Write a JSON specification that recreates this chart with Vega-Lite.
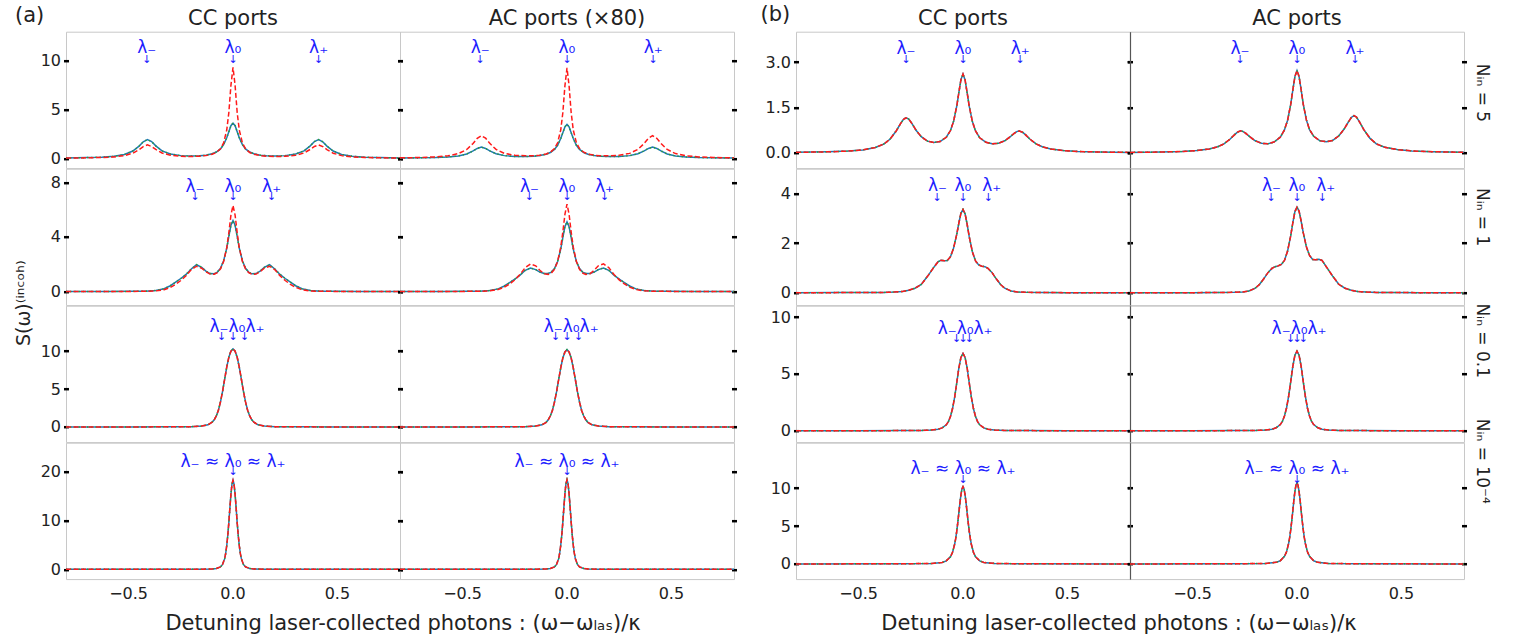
{
"$schema":"https://vega.github.io/schema/vega-lite/v6.json",
"background":"white",
"padding":{"left":0,"top":3.7,"right":30,"bottom":0},
"datasets":{
"c":[
{"p":"a1L","x":-0.8,"b":0.044,"r":0.032},{"p":"a1L","x":-0.7,"b":0.075,"r":0.054},{"p":"a1L","x":-0.63,"b":0.12,"r":0.088},{"p":"a1L","x":-0.57,"b":0.21,"r":0.15},{"p":"a1L","x":-0.52,"b":0.4,"r":0.28},{"p":"a1L","x":-0.48,"b":0.75,"r":0.53},{"p":"a1L","x":-0.45,"b":1.26,"r":0.9},{"p":"a1L","x":-0.43,"b":1.7,"r":1.21},{"p":"a1L","x":-0.41,"b":1.93,"r":1.38},{"p":"a1L","x":-0.39,"b":1.72,"r":1.22},{"p":"a1L","x":-0.37,"b":1.28,"r":0.92},{"p":"a1L","x":-0.34,"b":0.77,"r":0.55},{"p":"a1L","x":-0.3,"b":0.44,"r":0.32},{"p":"a1L","x":-0.25,"b":0.28,"r":0.21},{"p":"a1L","x":-0.2,"b":0.24,"r":0.19},{"p":"a1L","x":-0.16,"b":0.27,"r":0.22},{"p":"a1L","x":-0.13,"b":0.33,"r":0.28},{"p":"a1L","x":-0.1,"b":0.47,"r":0.42},{"p":"a1L","x":-0.08,"b":0.65,"r":0.6},{"p":"a1L","x":-0.06,"b":0.97,"r":0.98},{"p":"a1L","x":-0.045,"b":1.41,"r":1.59},{"p":"a1L","x":-0.03,"b":2.12,"r":2.91},{"p":"a1L","x":-0.02,"b":2.74,"r":4.7},{"p":"a1L","x":-0.01,"b":3.35,"r":7.49},{"p":"a1L","x":0,"b":3.62,"r":9.33},
{"p":"a1L","x":0.01,"b":3.35,"r":7.49},{"p":"a1L","x":0.02,"b":2.74,"r":4.7},{"p":"a1L","x":0.03,"b":2.12,"r":2.91},{"p":"a1L","x":0.045,"b":1.41,"r":1.59},{"p":"a1L","x":0.06,"b":0.97,"r":0.98},{"p":"a1L","x":0.08,"b":0.65,"r":0.6},{"p":"a1L","x":0.1,"b":0.47,"r":0.42},{"p":"a1L","x":0.13,"b":0.33,"r":0.28},{"p":"a1L","x":0.16,"b":0.27,"r":0.22},{"p":"a1L","x":0.2,"b":0.24,"r":0.19},{"p":"a1L","x":0.25,"b":0.28,"r":0.21},{"p":"a1L","x":0.3,"b":0.44,"r":0.32},{"p":"a1L","x":0.34,"b":0.77,"r":0.55},{"p":"a1L","x":0.37,"b":1.28,"r":0.92},{"p":"a1L","x":0.39,"b":1.72,"r":1.22},{"p":"a1L","x":0.41,"b":1.93,"r":1.38},{"p":"a1L","x":0.43,"b":1.7,"r":1.21},{"p":"a1L","x":0.45,"b":1.26,"r":0.9},{"p":"a1L","x":0.48,"b":0.75,"r":0.53},{"p":"a1L","x":0.52,"b":0.4,"r":0.28},{"p":"a1L","x":0.57,"b":0.21,"r":0.15},{"p":"a1L","x":0.63,"b":0.12,"r":0.088},{"p":"a1L","x":0.7,"b":0.075,"r":0.054},{"p":"a1L","x":0.8,"b":0.044,"r":0.032},
{"p":"a1R","x":-0.8,"b":0.03,"r":0.05},{"p":"a1R","x":-0.7,"b":0.05,"r":0.09},{"p":"a1R","x":-0.63,"b":0.08,"r":0.15},{"p":"a1R","x":-0.57,"b":0.14,"r":0.26},{"p":"a1R","x":-0.52,"b":0.25,"r":0.49},{"p":"a1R","x":-0.48,"b":0.45,"r":0.91},{"p":"a1R","x":-0.45,"b":0.76,"r":1.53},{"p":"a1R","x":-0.43,"b":1.02,"r":2.06},{"p":"a1R","x":-0.41,"b":1.15,"r":2.33},{"p":"a1R","x":-0.39,"b":1.02,"r":2.07},{"p":"a1R","x":-0.37,"b":0.77,"r":1.54},{"p":"a1R","x":-0.34,"b":0.47,"r":0.92},{"p":"a1R","x":-0.3,"b":0.28,"r":0.51},{"p":"a1R","x":-0.25,"b":0.19,"r":0.32},{"p":"a1R","x":-0.2,"b":0.18,"r":0.26},{"p":"a1R","x":-0.16,"b":0.22,"r":0.27},{"p":"a1R","x":-0.13,"b":0.29,"r":0.32},{"p":"a1R","x":-0.1,"b":0.42,"r":0.45},{"p":"a1R","x":-0.08,"b":0.6,"r":0.63},{"p":"a1R","x":-0.06,"b":0.92,"r":1.01},{"p":"a1R","x":-0.045,"b":1.34,"r":1.6},{"p":"a1R","x":-0.03,"b":2.03,"r":2.91},{"p":"a1R","x":-0.02,"b":2.64,"r":4.68},{"p":"a1R","x":-0.01,"b":3.23,"r":7.44},{"p":"a1R","x":0,"b":3.49,"r":9.28},
{"p":"a1R","x":0.01,"b":3.23,"r":7.44},{"p":"a1R","x":0.02,"b":2.64,"r":4.68},{"p":"a1R","x":0.03,"b":2.03,"r":2.91},{"p":"a1R","x":0.045,"b":1.34,"r":1.6},{"p":"a1R","x":0.06,"b":0.92,"r":1.01},{"p":"a1R","x":0.08,"b":0.6,"r":0.63},{"p":"a1R","x":0.1,"b":0.42,"r":0.45},{"p":"a1R","x":0.13,"b":0.29,"r":0.32},{"p":"a1R","x":0.16,"b":0.22,"r":0.27},{"p":"a1R","x":0.2,"b":0.18,"r":0.26},{"p":"a1R","x":0.25,"b":0.19,"r":0.32},{"p":"a1R","x":0.3,"b":0.28,"r":0.51},{"p":"a1R","x":0.34,"b":0.47,"r":0.92},{"p":"a1R","x":0.37,"b":0.77,"r":1.54},{"p":"a1R","x":0.39,"b":1.02,"r":2.07},{"p":"a1R","x":0.41,"b":1.15,"r":2.33},{"p":"a1R","x":0.43,"b":1.02,"r":2.06},{"p":"a1R","x":0.45,"b":0.76,"r":1.53},{"p":"a1R","x":0.48,"b":0.45,"r":0.91},{"p":"a1R","x":0.52,"b":0.25,"r":0.49},{"p":"a1R","x":0.57,"b":0.14,"r":0.26},{"p":"a1R","x":0.63,"b":0.08,"r":0.15},{"p":"a1R","x":0.7,"b":0.05,"r":0.09},{"p":"a1R","x":0.8,"b":0.03,"r":0.05},
{"p":"a2L","x":-0.8,"b":0.001,"r":0.001},{"p":"a2L","x":-0.6,"b":0.003,"r":0.002},{"p":"a2L","x":-0.5,"b":0.006,"r":0.004},{"p":"a2L","x":-0.42,"b":0.02,"r":0.01},{"p":"a2L","x":-0.37,"b":0.07,"r":0.04},{"p":"a2L","x":-0.33,"b":0.2,"r":0.13},{"p":"a2L","x":-0.3,"b":0.42,"r":0.3},{"p":"a2L","x":-0.275,"b":0.68,"r":0.52},{"p":"a2L","x":-0.25,"b":0.95,"r":0.8},{"p":"a2L","x":-0.225,"b":1.25,"r":1.15},{"p":"a2L","x":-0.2,"b":1.65,"r":1.6},{"p":"a2L","x":-0.175,"b":1.96,"r":1.85},{"p":"a2L","x":-0.15,"b":1.77,"r":1.7},{"p":"a2L","x":-0.13,"b":1.49,"r":1.45},{"p":"a2L","x":-0.11,"b":1.31,"r":1.27},{"p":"a2L","x":-0.09,"b":1.29,"r":1.26},{"p":"a2L","x":-0.075,"b":1.42,"r":1.38},{"p":"a2L","x":-0.06,"b":1.7,"r":1.65},{"p":"a2L","x":-0.045,"b":2.25,"r":2.2},{"p":"a2L","x":-0.03,"b":3.18,"r":3.2},{"p":"a2L","x":-0.02,"b":4.03,"r":4.3},{"p":"a2L","x":-0.01,"b":4.85,"r":5.6},{"p":"a2L","x":0,"b":5.2,"r":6.3},
{"p":"a2L","x":0.01,"b":4.85,"r":5.6},{"p":"a2L","x":0.02,"b":4.03,"r":4.3},{"p":"a2L","x":0.03,"b":3.18,"r":3.2},{"p":"a2L","x":0.045,"b":2.25,"r":2.2},{"p":"a2L","x":0.06,"b":1.7,"r":1.65},{"p":"a2L","x":0.075,"b":1.42,"r":1.38},{"p":"a2L","x":0.09,"b":1.29,"r":1.26},{"p":"a2L","x":0.11,"b":1.31,"r":1.27},{"p":"a2L","x":0.13,"b":1.49,"r":1.45},{"p":"a2L","x":0.15,"b":1.77,"r":1.7},{"p":"a2L","x":0.175,"b":1.96,"r":1.85},{"p":"a2L","x":0.2,"b":1.65,"r":1.6},{"p":"a2L","x":0.225,"b":1.25,"r":1.15},{"p":"a2L","x":0.25,"b":0.95,"r":0.8},{"p":"a2L","x":0.275,"b":0.68,"r":0.52},{"p":"a2L","x":0.3,"b":0.42,"r":0.3},{"p":"a2L","x":0.33,"b":0.2,"r":0.13},{"p":"a2L","x":0.37,"b":0.07,"r":0.04},{"p":"a2L","x":0.42,"b":0.02,"r":0.01},{"p":"a2L","x":0.5,"b":0.006,"r":0.004},{"p":"a2L","x":0.6,"b":0.003,"r":0.002},{"p":"a2L","x":0.8,"b":0.001,"r":0.001},
{"p":"a2R","x":-0.8,"b":0.001,"r":0.001},{"p":"a2R","x":-0.6,"b":0.003,"r":0.002},{"p":"a2R","x":-0.5,"b":0.006,"r":0.004},{"p":"a2R","x":-0.42,"b":0.02,"r":0.012},{"p":"a2R","x":-0.37,"b":0.065,"r":0.045},{"p":"a2R","x":-0.33,"b":0.19,"r":0.14},{"p":"a2R","x":-0.3,"b":0.4,"r":0.32},{"p":"a2R","x":-0.275,"b":0.64,"r":0.55},{"p":"a2R","x":-0.25,"b":0.9,"r":0.85},{"p":"a2R","x":-0.225,"b":1.2,"r":1.25},{"p":"a2R","x":-0.2,"b":1.55,"r":1.75},{"p":"a2R","x":-0.175,"b":1.72,"r":2.02},{"p":"a2R","x":-0.15,"b":1.6,"r":1.88},{"p":"a2R","x":-0.13,"b":1.42,"r":1.55},{"p":"a2R","x":-0.11,"b":1.32,"r":1.3},{"p":"a2R","x":-0.09,"b":1.32,"r":1.25},{"p":"a2R","x":-0.075,"b":1.42,"r":1.35},{"p":"a2R","x":-0.06,"b":1.68,"r":1.62},{"p":"a2R","x":-0.045,"b":2.2,"r":2.2},{"p":"a2R","x":-0.03,"b":3.1,"r":3.25},{"p":"a2R","x":-0.02,"b":3.95,"r":4.35},{"p":"a2R","x":-0.01,"b":4.75,"r":5.65},{"p":"a2R","x":0,"b":5.1,"r":6.4},
{"p":"a2R","x":0.01,"b":4.75,"r":5.65},{"p":"a2R","x":0.02,"b":3.95,"r":4.35},{"p":"a2R","x":0.03,"b":3.1,"r":3.25},{"p":"a2R","x":0.045,"b":2.2,"r":2.2},{"p":"a2R","x":0.06,"b":1.68,"r":1.62},{"p":"a2R","x":0.075,"b":1.42,"r":1.35},{"p":"a2R","x":0.09,"b":1.32,"r":1.25},{"p":"a2R","x":0.11,"b":1.32,"r":1.3},{"p":"a2R","x":0.13,"b":1.42,"r":1.55},{"p":"a2R","x":0.15,"b":1.6,"r":1.88},{"p":"a2R","x":0.175,"b":1.72,"r":2.02},{"p":"a2R","x":0.2,"b":1.55,"r":1.75},{"p":"a2R","x":0.225,"b":1.2,"r":1.25},{"p":"a2R","x":0.25,"b":0.9,"r":0.85},{"p":"a2R","x":0.275,"b":0.64,"r":0.55},{"p":"a2R","x":0.3,"b":0.4,"r":0.32},{"p":"a2R","x":0.33,"b":0.19,"r":0.14},{"p":"a2R","x":0.37,"b":0.065,"r":0.045},{"p":"a2R","x":0.42,"b":0.02,"r":0.012},{"p":"a2R","x":0.5,"b":0.006,"r":0.004},{"p":"a2R","x":0.6,"b":0.003,"r":0.002},{"p":"a2R","x":0.8,"b":0.001,"r":0.001},
{"p":"a3L","x":-0.8,"b":0.001,"r":0.001},{"p":"a3L","x":-0.5,"b":0.004,"r":0.004},{"p":"a3L","x":-0.3,"b":0.012,"r":0.012},{"p":"a3L","x":-0.2,"b":0.04,"r":0.04},{"p":"a3L","x":-0.15,"b":0.11,"r":0.11},{"p":"a3L","x":-0.12,"b":0.28,"r":0.28},{"p":"a3L","x":-0.1,"b":0.62,"r":0.62},{"p":"a3L","x":-0.09,"b":0.95,"r":0.95},{"p":"a3L","x":-0.08,"b":1.45,"r":1.45},{"p":"a3L","x":-0.07,"b":2.2,"r":2.2},{"p":"a3L","x":-0.06,"b":3.3,"r":3.3},{"p":"a3L","x":-0.05,"b":4.7,"r":4.7},{"p":"a3L","x":-0.04,"b":6.3,"r":6.3},{"p":"a3L","x":-0.03,"b":7.9,"r":7.9},{"p":"a3L","x":-0.02,"b":9.2,"r":9.2},{"p":"a3L","x":-0.01,"b":10.0,"r":10.0},{"p":"a3L","x":0,"b":10.3,"r":10.3},
{"p":"a3L","x":0.01,"b":10.0,"r":10.0},{"p":"a3L","x":0.02,"b":9.2,"r":9.2},{"p":"a3L","x":0.03,"b":7.9,"r":7.9},{"p":"a3L","x":0.04,"b":6.3,"r":6.3},{"p":"a3L","x":0.05,"b":4.7,"r":4.7},{"p":"a3L","x":0.06,"b":3.3,"r":3.3},{"p":"a3L","x":0.07,"b":2.2,"r":2.2},{"p":"a3L","x":0.08,"b":1.45,"r":1.45},{"p":"a3L","x":0.09,"b":0.95,"r":0.95},{"p":"a3L","x":0.1,"b":0.62,"r":0.62},{"p":"a3L","x":0.12,"b":0.28,"r":0.28},{"p":"a3L","x":0.15,"b":0.11,"r":0.11},{"p":"a3L","x":0.2,"b":0.04,"r":0.04},{"p":"a3L","x":0.3,"b":0.012,"r":0.012},{"p":"a3L","x":0.5,"b":0.004,"r":0.004},{"p":"a3L","x":0.8,"b":0.001,"r":0.001},
{"p":"a3R","x":-0.8,"b":0.001,"r":0.001},{"p":"a3R","x":-0.5,"b":0.004,"r":0.004},{"p":"a3R","x":-0.3,"b":0.012,"r":0.012},{"p":"a3R","x":-0.2,"b":0.04,"r":0.04},{"p":"a3R","x":-0.15,"b":0.11,"r":0.11},{"p":"a3R","x":-0.12,"b":0.28,"r":0.28},{"p":"a3R","x":-0.1,"b":0.61,"r":0.61},{"p":"a3R","x":-0.09,"b":0.94,"r":0.94},{"p":"a3R","x":-0.08,"b":1.44,"r":1.44},{"p":"a3R","x":-0.07,"b":2.18,"r":2.18},{"p":"a3R","x":-0.06,"b":3.27,"r":3.27},{"p":"a3R","x":-0.05,"b":4.65,"r":4.65},{"p":"a3R","x":-0.04,"b":6.25,"r":6.25},{"p":"a3R","x":-0.03,"b":7.8,"r":7.8},{"p":"a3R","x":-0.02,"b":9.1,"r":9.1},{"p":"a3R","x":-0.01,"b":9.9,"r":9.9},{"p":"a3R","x":0,"b":10.2,"r":10.2},
{"p":"a3R","x":0.01,"b":9.9,"r":9.9},{"p":"a3R","x":0.02,"b":9.1,"r":9.1},{"p":"a3R","x":0.03,"b":7.8,"r":7.8},{"p":"a3R","x":0.04,"b":6.25,"r":6.25},{"p":"a3R","x":0.05,"b":4.65,"r":4.65},{"p":"a3R","x":0.06,"b":3.27,"r":3.27},{"p":"a3R","x":0.07,"b":2.18,"r":2.18},{"p":"a3R","x":0.08,"b":1.44,"r":1.44},{"p":"a3R","x":0.09,"b":0.94,"r":0.94},{"p":"a3R","x":0.1,"b":0.61,"r":0.61},{"p":"a3R","x":0.12,"b":0.28,"r":0.28},{"p":"a3R","x":0.15,"b":0.11,"r":0.11},{"p":"a3R","x":0.2,"b":0.04,"r":0.04},{"p":"a3R","x":0.3,"b":0.012,"r":0.012},{"p":"a3R","x":0.5,"b":0.004,"r":0.004},{"p":"a3R","x":0.8,"b":0.001,"r":0.001},
{"p":"a4L","x":-0.8,"b":0.001,"r":0.001},{"p":"a4L","x":-0.3,"b":0.008,"r":0.008},{"p":"a4L","x":-0.15,"b":0.03,"r":0.03},{"p":"a4L","x":-0.1,"b":0.09,"r":0.09},{"p":"a4L","x":-0.08,"b":0.18,"r":0.18},{"p":"a4L","x":-0.06,"b":0.5,"r":0.5},{"p":"a4L","x":-0.05,"b":1.0,"r":1.0},{"p":"a4L","x":-0.04,"b":2.2,"r":2.2},{"p":"a4L","x":-0.035,"b":3.3,"r":3.3},{"p":"a4L","x":-0.03,"b":4.9,"r":4.9},{"p":"a4L","x":-0.025,"b":7.0,"r":7.0},{"p":"a4L","x":-0.02,"b":9.6,"r":9.6},{"p":"a4L","x":-0.015,"b":12.6,"r":12.6},{"p":"a4L","x":-0.01,"b":15.4,"r":15.4},{"p":"a4L","x":-0.005,"b":17.5,"r":17.5},{"p":"a4L","x":0,"b":18.3,"r":18.3},
{"p":"a4L","x":0.005,"b":17.5,"r":17.5},{"p":"a4L","x":0.01,"b":15.4,"r":15.4},{"p":"a4L","x":0.015,"b":12.6,"r":12.6},{"p":"a4L","x":0.02,"b":9.6,"r":9.6},{"p":"a4L","x":0.025,"b":7.0,"r":7.0},{"p":"a4L","x":0.03,"b":4.9,"r":4.9},{"p":"a4L","x":0.035,"b":3.3,"r":3.3},{"p":"a4L","x":0.04,"b":2.2,"r":2.2},{"p":"a4L","x":0.05,"b":1.0,"r":1.0},{"p":"a4L","x":0.06,"b":0.5,"r":0.5},{"p":"a4L","x":0.08,"b":0.18,"r":0.18},{"p":"a4L","x":0.1,"b":0.09,"r":0.09},{"p":"a4L","x":0.15,"b":0.03,"r":0.03},{"p":"a4L","x":0.3,"b":0.008,"r":0.008},{"p":"a4L","x":0.8,"b":0.001,"r":0.001},
{"p":"a4R","x":-0.8,"b":0.001,"r":0.001},{"p":"a4R","x":-0.3,"b":0.008,"r":0.008},{"p":"a4R","x":-0.15,"b":0.03,"r":0.03},{"p":"a4R","x":-0.1,"b":0.09,"r":0.09},{"p":"a4R","x":-0.08,"b":0.18,"r":0.18},{"p":"a4R","x":-0.06,"b":0.5,"r":0.5},{"p":"a4R","x":-0.05,"b":1.0,"r":1.0},{"p":"a4R","x":-0.04,"b":2.2,"r":2.2},{"p":"a4R","x":-0.035,"b":3.35,"r":3.35},{"p":"a4R","x":-0.03,"b":4.95,"r":4.95},{"p":"a4R","x":-0.025,"b":7.05,"r":7.05},{"p":"a4R","x":-0.02,"b":9.7,"r":9.7},{"p":"a4R","x":-0.015,"b":12.7,"r":12.7},{"p":"a4R","x":-0.01,"b":15.5,"r":15.5},{"p":"a4R","x":-0.005,"b":17.6,"r":17.6},{"p":"a4R","x":0,"b":18.4,"r":18.4},
{"p":"a4R","x":0.005,"b":17.6,"r":17.6},{"p":"a4R","x":0.01,"b":15.5,"r":15.5},{"p":"a4R","x":0.015,"b":12.7,"r":12.7},{"p":"a4R","x":0.02,"b":9.7,"r":9.7},{"p":"a4R","x":0.025,"b":7.05,"r":7.05},{"p":"a4R","x":0.03,"b":4.95,"r":4.95},{"p":"a4R","x":0.035,"b":3.35,"r":3.35},{"p":"a4R","x":0.04,"b":2.2,"r":2.2},{"p":"a4R","x":0.05,"b":1.0,"r":1.0},{"p":"a4R","x":0.06,"b":0.5,"r":0.5},{"p":"a4R","x":0.08,"b":0.18,"r":0.18},{"p":"a4R","x":0.1,"b":0.09,"r":0.09},{"p":"a4R","x":0.15,"b":0.03,"r":0.03},{"p":"a4R","x":0.3,"b":0.008,"r":0.008},{"p":"a4R","x":0.8,"b":0.001,"r":0.001},
{"p":"b1L","x":-0.8,"b":0.02},{"p":"b1L","x":-0.65,"b":0.036},{"p":"b1L","x":-0.55,"b":0.061},{"p":"b1L","x":-0.48,"b":0.1},{"p":"b1L","x":-0.42,"b":0.18},{"p":"b1L","x":-0.38,"b":0.29},{"p":"b1L","x":-0.35,"b":0.45},{"p":"b1L","x":-0.32,"b":0.725},{"p":"b1L","x":-0.3,"b":0.96},{"p":"b1L","x":-0.285,"b":1.11},{"p":"b1L","x":-0.273,"b":1.16},{"p":"b1L","x":-0.26,"b":1.12},{"p":"b1L","x":-0.245,"b":0.975},{"p":"b1L","x":-0.225,"b":0.75},{"p":"b1L","x":-0.2,"b":0.535},{"p":"b1L","x":-0.17,"b":0.39},{"p":"b1L","x":-0.14,"b":0.345},{"p":"b1L","x":-0.11,"b":0.374},{"p":"b1L","x":-0.08,"b":0.518},{"p":"b1L","x":-0.06,"b":0.739},{"p":"b1L","x":-0.045,"b":1.043},{"p":"b1L","x":-0.03,"b":1.54},{"p":"b1L","x":-0.02,"b":1.985},{"p":"b1L","x":-0.01,"b":2.414},{"p":"b1L","x":0,"b":2.602},{"p":"b1L","x":0.01,"b":2.41},{"p":"b1L","x":0.02,"b":1.98},{"p":"b1L","x":0.03,"b":1.534},{"p":"b1L","x":0.045,"b":1.034},{"p":"b1L","x":0.06,"b":0.726},{"p":"b1L","x":0.08,"b":0.5},{"p":"b1L","x":0.11,"b":0.352},{"p":"b1L","x":0.14,"b":0.3},{"p":"b1L","x":0.17,"b":0.32},{"p":"b1L","x":0.2,"b":0.4},{"p":"b1L","x":0.225,"b":0.527},{"p":"b1L","x":0.245,"b":0.647},{"p":"b1L","x":0.26,"b":0.712},{"p":"b1L","x":0.27,"b":0.725},{"p":"b1L","x":0.285,"b":0.685},{"p":"b1L","x":0.3,"b":0.597},{"p":"b1L","x":0.32,"b":0.46},{"p":"b1L","x":0.35,"b":0.3},{"p":"b1L","x":0.38,"b":0.203},{"p":"b1L","x":0.42,"b":0.131},{"p":"b1L","x":0.48,"b":0.079},{"p":"b1L","x":0.55,"b":0.048},{"p":"b1L","x":0.65,"b":0.03},{"p":"b1L","x":0.8,"b":0.018},
{"p":"b1R","x":-0.8,"b":0.018},{"p":"b1R","x":-0.65,"b":0.03},{"p":"b1R","x":-0.55,"b":0.048},{"p":"b1R","x":-0.48,"b":0.079},{"p":"b1R","x":-0.42,"b":0.131},{"p":"b1R","x":-0.38,"b":0.203},{"p":"b1R","x":-0.35,"b":0.3},{"p":"b1R","x":-0.32,"b":0.46},{"p":"b1R","x":-0.3,"b":0.597},{"p":"b1R","x":-0.285,"b":0.685},{"p":"b1R","x":-0.27,"b":0.73},{"p":"b1R","x":-0.26,"b":0.712},{"p":"b1R","x":-0.245,"b":0.647},{"p":"b1R","x":-0.225,"b":0.527},{"p":"b1R","x":-0.2,"b":0.4},{"p":"b1R","x":-0.17,"b":0.32},{"p":"b1R","x":-0.14,"b":0.3},{"p":"b1R","x":-0.11,"b":0.36},{"p":"b1R","x":-0.08,"b":0.52},{"p":"b1R","x":-0.06,"b":0.76},{"p":"b1R","x":-0.045,"b":1.08},{"p":"b1R","x":-0.03,"b":1.6},{"p":"b1R","x":-0.02,"b":2.07},{"p":"b1R","x":-0.01,"b":2.52},{"p":"b1R","x":0,"b":2.72},{"p":"b1R","x":0.01,"b":2.52},{"p":"b1R","x":0.02,"b":2.08},{"p":"b1R","x":0.03,"b":1.61},{"p":"b1R","x":0.045,"b":1.09},{"p":"b1R","x":0.06,"b":0.77},{"p":"b1R","x":0.08,"b":0.55},{"p":"b1R","x":0.11,"b":0.4},{"p":"b1R","x":0.14,"b":0.37},{"p":"b1R","x":0.17,"b":0.41},{"p":"b1R","x":0.2,"b":0.56},{"p":"b1R","x":0.225,"b":0.78},{"p":"b1R","x":0.245,"b":1.01},{"p":"b1R","x":0.26,"b":1.17},{"p":"b1R","x":0.273,"b":1.23},{"p":"b1R","x":0.285,"b":1.18},{"p":"b1R","x":0.3,"b":1.02},{"p":"b1R","x":0.32,"b":0.77},{"p":"b1R","x":0.35,"b":0.48},{"p":"b1R","x":0.38,"b":0.3},{"p":"b1R","x":0.42,"b":0.19},{"p":"b1R","x":0.48,"b":0.11},{"p":"b1R","x":0.55,"b":0.067},{"p":"b1R","x":0.65,"b":0.04},{"p":"b1R","x":0.8,"b":0.022},
{"p":"b2L","x":-0.8,"b":0.001},{"p":"b2L","x":-0.6,"b":0.003},{"p":"b2L","x":-0.45,"b":0.006},{"p":"b2L","x":-0.38,"b":0.012},{"p":"b2L","x":-0.33,"b":0.025},{"p":"b2L","x":-0.29,"b":0.05},{"p":"b2L","x":-0.26,"b":0.1},{"p":"b2L","x":-0.23,"b":0.18},{"p":"b2L","x":-0.2,"b":0.33},{"p":"b2L","x":-0.17,"b":0.66},{"p":"b2L","x":-0.14,"b":1.02},{"p":"b2L","x":-0.12,"b":1.24},{"p":"b2L","x":-0.105,"b":1.31},{"p":"b2L","x":-0.09,"b":1.29},{"p":"b2L","x":-0.075,"b":1.3},{"p":"b2L","x":-0.06,"b":1.45},{"p":"b2L","x":-0.045,"b":1.8},{"p":"b2L","x":-0.03,"b":2.35},{"p":"b2L","x":-0.02,"b":2.8},{"p":"b2L","x":-0.01,"b":3.2},{"p":"b2L","x":0,"b":3.36},{"p":"b2L","x":0.01,"b":3.18},{"p":"b2L","x":0.02,"b":2.75},{"p":"b2L","x":0.03,"b":2.25},{"p":"b2L","x":0.045,"b":1.65},{"p":"b2L","x":0.06,"b":1.28},{"p":"b2L","x":0.075,"b":1.12},{"p":"b2L","x":0.09,"b":1.07},{"p":"b2L","x":0.105,"b":1.05},{"p":"b2L","x":0.12,"b":0.98},{"p":"b2L","x":0.14,"b":0.8},{"p":"b2L","x":0.16,"b":0.55},{"p":"b2L","x":0.18,"b":0.33},{"p":"b2L","x":0.2,"b":0.18},{"p":"b2L","x":0.23,"b":0.07},{"p":"b2L","x":0.26,"b":0.03},{"p":"b2L","x":0.3,"b":0.015},{"p":"b2L","x":0.38,"b":0.006},{"p":"b2L","x":0.5,"b":0.002},{"p":"b2L","x":0.8,"b":0.001},
{"p":"b2R","x":-0.8,"b":0.001},{"p":"b2R","x":-0.5,"b":0.002},{"p":"b2R","x":-0.38,"b":0.006},{"p":"b2R","x":-0.3,"b":0.015},{"p":"b2R","x":-0.26,"b":0.03},{"p":"b2R","x":-0.23,"b":0.07},{"p":"b2R","x":-0.2,"b":0.18},{"p":"b2R","x":-0.18,"b":0.33},{"p":"b2R","x":-0.16,"b":0.55},{"p":"b2R","x":-0.14,"b":0.8},{"p":"b2R","x":-0.12,"b":0.98},{"p":"b2R","x":-0.105,"b":1.05},{"p":"b2R","x":-0.09,"b":1.08},{"p":"b2R","x":-0.075,"b":1.14},{"p":"b2R","x":-0.06,"b":1.3},{"p":"b2R","x":-0.045,"b":1.68},{"p":"b2R","x":-0.03,"b":2.3},{"p":"b2R","x":-0.02,"b":2.82},{"p":"b2R","x":-0.01,"b":3.27},{"p":"b2R","x":0,"b":3.45},{"p":"b2R","x":0.01,"b":3.29},{"p":"b2R","x":0.02,"b":2.88},{"p":"b2R","x":0.03,"b":2.42},{"p":"b2R","x":0.045,"b":1.85},{"p":"b2R","x":0.06,"b":1.5},{"p":"b2R","x":0.075,"b":1.34},{"p":"b2R","x":0.09,"b":1.33},{"p":"b2R","x":0.105,"b":1.35},{"p":"b2R","x":0.12,"b":1.3},{"p":"b2R","x":0.14,"b":1.05},{"p":"b2R","x":0.17,"b":0.68},{"p":"b2R","x":0.2,"b":0.34},{"p":"b2R","x":0.23,"b":0.18},{"p":"b2R","x":0.26,"b":0.1},{"p":"b2R","x":0.29,"b":0.05},{"p":"b2R","x":0.33,"b":0.025},{"p":"b2R","x":0.38,"b":0.012},{"p":"b2R","x":0.45,"b":0.005},{"p":"b2R","x":0.6,"b":0.002},{"p":"b2R","x":0.8,"b":0.001},
{"p":"b3L","x":-0.8,"b":0.002},{"p":"b3L","x":-0.5,"b":0.004},{"p":"b3L","x":-0.3,"b":0.01},{"p":"b3L","x":-0.2,"b":0.025},{"p":"b3L","x":-0.15,"b":0.06},{"p":"b3L","x":-0.12,"b":0.13},{"p":"b3L","x":-0.1,"b":0.25},{"p":"b3L","x":-0.08,"b":0.52},{"p":"b3L","x":-0.07,"b":0.8},{"p":"b3L","x":-0.06,"b":1.25},{"p":"b3L","x":-0.05,"b":1.95},{"p":"b3L","x":-0.04,"b":2.95},{"p":"b3L","x":-0.03,"b":4.2},{"p":"b3L","x":-0.02,"b":5.5},{"p":"b3L","x":-0.01,"b":6.45},{"p":"b3L","x":0,"b":6.8},{"p":"b3L","x":0.01,"b":6.45},{"p":"b3L","x":0.02,"b":5.5},{"p":"b3L","x":0.03,"b":4.2},{"p":"b3L","x":0.04,"b":2.95},{"p":"b3L","x":0.05,"b":1.95},{"p":"b3L","x":0.06,"b":1.25},{"p":"b3L","x":0.07,"b":0.8},{"p":"b3L","x":0.08,"b":0.52},{"p":"b3L","x":0.1,"b":0.25},{"p":"b3L","x":0.12,"b":0.13},{"p":"b3L","x":0.15,"b":0.06},{"p":"b3L","x":0.2,"b":0.025},{"p":"b3L","x":0.3,"b":0.01},{"p":"b3L","x":0.5,"b":0.004},{"p":"b3L","x":0.8,"b":0.002},
{"p":"b3R","x":-0.8,"b":0.002},{"p":"b3R","x":-0.5,"b":0.004},{"p":"b3R","x":-0.3,"b":0.01},{"p":"b3R","x":-0.2,"b":0.025},{"p":"b3R","x":-0.15,"b":0.06},{"p":"b3R","x":-0.12,"b":0.13},{"p":"b3R","x":-0.1,"b":0.26},{"p":"b3R","x":-0.08,"b":0.54},{"p":"b3R","x":-0.07,"b":0.82},{"p":"b3R","x":-0.06,"b":1.29},{"p":"b3R","x":-0.05,"b":2.0},{"p":"b3R","x":-0.04,"b":3.04},{"p":"b3R","x":-0.03,"b":4.32},{"p":"b3R","x":-0.02,"b":5.66},{"p":"b3R","x":-0.01,"b":6.64},{"p":"b3R","x":0,"b":7.0},{"p":"b3R","x":0.01,"b":6.64},{"p":"b3R","x":0.02,"b":5.66},{"p":"b3R","x":0.03,"b":4.32},{"p":"b3R","x":0.04,"b":3.04},{"p":"b3R","x":0.05,"b":2.0},{"p":"b3R","x":0.06,"b":1.29},{"p":"b3R","x":0.07,"b":0.82},{"p":"b3R","x":0.08,"b":0.54},{"p":"b3R","x":0.1,"b":0.26},{"p":"b3R","x":0.12,"b":0.13},{"p":"b3R","x":0.15,"b":0.06},{"p":"b3R","x":0.2,"b":0.025},{"p":"b3R","x":0.3,"b":0.01},{"p":"b3R","x":0.5,"b":0.004},{"p":"b3R","x":0.8,"b":0.002},
{"p":"b4L","x":-0.8,"b":0.002},{"p":"b4L","x":-0.3,"b":0.015},{"p":"b4L","x":-0.15,"b":0.07},{"p":"b4L","x":-0.1,"b":0.2},{"p":"b4L","x":-0.08,"b":0.4},{"p":"b4L","x":-0.06,"b":0.95},{"p":"b4L","x":-0.05,"b":1.55},{"p":"b4L","x":-0.04,"b":2.6},{"p":"b4L","x":-0.035,"b":3.35},{"p":"b4L","x":-0.03,"b":4.3},{"p":"b4L","x":-0.025,"b":5.45},{"p":"b4L","x":-0.02,"b":6.7},{"p":"b4L","x":-0.015,"b":8.0},{"p":"b4L","x":-0.01,"b":9.1},{"p":"b4L","x":-0.005,"b":9.9},{"p":"b4L","x":0,"b":10.2},{"p":"b4L","x":0.005,"b":9.9},{"p":"b4L","x":0.01,"b":9.1},{"p":"b4L","x":0.015,"b":8.0},{"p":"b4L","x":0.02,"b":6.7},{"p":"b4L","x":0.025,"b":5.45},{"p":"b4L","x":0.03,"b":4.3},{"p":"b4L","x":0.035,"b":3.35},{"p":"b4L","x":0.04,"b":2.6},{"p":"b4L","x":0.05,"b":1.55},{"p":"b4L","x":0.06,"b":0.95},{"p":"b4L","x":0.08,"b":0.4},{"p":"b4L","x":0.1,"b":0.2},{"p":"b4L","x":0.15,"b":0.07},{"p":"b4L","x":0.3,"b":0.015},{"p":"b4L","x":0.8,"b":0.002},
{"p":"b4R","x":-0.8,"b":0.002},{"p":"b4R","x":-0.3,"b":0.016},{"p":"b4R","x":-0.15,"b":0.07},{"p":"b4R","x":-0.1,"b":0.21},{"p":"b4R","x":-0.08,"b":0.42},{"p":"b4R","x":-0.06,"b":1.0},{"p":"b4R","x":-0.05,"b":1.6},{"p":"b4R","x":-0.04,"b":2.7},{"p":"b4R","x":-0.035,"b":3.5},{"p":"b4R","x":-0.03,"b":4.5},{"p":"b4R","x":-0.025,"b":5.7},{"p":"b4R","x":-0.02,"b":7.0},{"p":"b4R","x":-0.015,"b":8.4},{"p":"b4R","x":-0.01,"b":9.55},{"p":"b4R","x":-0.005,"b":10.4},{"p":"b4R","x":0,"b":10.7},{"p":"b4R","x":0.005,"b":10.4},{"p":"b4R","x":0.01,"b":9.55},{"p":"b4R","x":0.015,"b":8.4},{"p":"b4R","x":0.02,"b":7.0},{"p":"b4R","x":0.025,"b":5.7},{"p":"b4R","x":0.03,"b":4.5},{"p":"b4R","x":0.035,"b":3.5},{"p":"b4R","x":0.04,"b":2.7},{"p":"b4R","x":0.05,"b":1.6},{"p":"b4R","x":0.06,"b":1.0},{"p":"b4R","x":0.08,"b":0.42},{"p":"b4R","x":0.1,"b":0.21},{"p":"b4R","x":0.15,"b":0.07},{"p":"b4R","x":0.3,"b":0.016},{"p":"b4R","x":0.8,"b":0.002}
],
"n":[
{"p":"a1L","k":"l","tx":-0.413,"ty":11.36,"t":"λ₋"},{"p":"a1L","k":"l","tx":0,"ty":11.36,"t":"λ₀"},{"p":"a1L","k":"l","tx":0.41,"ty":11.36,"t":"λ₊"},
{"p":"a1L","k":"a","tx":-0.413,"ty":10.06},{"p":"a1L","k":"a","tx":0,"ty":10.06},{"p":"a1L","k":"a","tx":0.41,"ty":10.06},
{"p":"a1R","k":"l","tx":-0.416,"ty":11.36,"t":"λ₋"},{"p":"a1R","k":"l","tx":0,"ty":11.36,"t":"λ₀"},{"p":"a1R","k":"l","tx":0.413,"ty":11.36,"t":"λ₊"},
{"p":"a1R","k":"a","tx":-0.416,"ty":10.06},{"p":"a1R","k":"a","tx":0,"ty":10.06},{"p":"a1R","k":"a","tx":0.413,"ty":10.06},
{"p":"a2L","k":"l","tx":-0.182,"ty":7.67,"t":"λ₋"},{"p":"a2L","k":"l","tx":0,"ty":7.67,"t":"λ₀"},{"p":"a2L","k":"l","tx":0.185,"ty":7.67,"t":"λ₊"},
{"p":"a2L","k":"a","tx":-0.182,"ty":6.93},{"p":"a2L","k":"a","tx":0,"ty":6.93},{"p":"a2L","k":"a","tx":0.185,"ty":6.93},
{"p":"a2R","k":"l","tx":-0.18,"ty":7.67,"t":"λ₋"},{"p":"a2R","k":"l","tx":0,"ty":7.67,"t":"λ₀"},{"p":"a2R","k":"l","tx":0.18,"ty":7.67,"t":"λ₊"},
{"p":"a2R","k":"a","tx":-0.18,"ty":6.93},{"p":"a2R","k":"a","tx":0,"ty":6.93},{"p":"a2R","k":"a","tx":0.18,"ty":6.93},
{"p":"a3L","k":"l","tx":0.019,"ty":13.14,"t":"λ₋λ₀λ₊"},
{"p":"a3L","k":"a","tx":-0.055,"ty":11.88},{"p":"a3L","k":"a","tx":0,"ty":11.88},{"p":"a3L","k":"a","tx":0.055,"ty":11.88},
{"p":"a3R","k":"l","tx":0.02,"ty":13.14,"t":"λ₋λ₀λ₊"},
{"p":"a3R","k":"a","tx":-0.055,"ty":11.88},{"p":"a3R","k":"a","tx":0,"ty":11.88},{"p":"a3R","k":"a","tx":0.055,"ty":11.88},
{"p":"a4L","k":"l","tx":0,"ty":22.07,"t":"λ₋ ≈ λ₀ ≈ λ₊"},{"p":"a4L","k":"a","tx":0,"ty":19.92},
{"p":"a4R","k":"l","tx":0,"ty":22.07,"t":"λ₋ ≈ λ₀ ≈ λ₊"},{"p":"a4R","k":"a","tx":0,"ty":19.92},
{"p":"b1L","k":"l","tx":-0.273,"ty":3.43,"t":"λ₋"},{"p":"b1L","k":"l","tx":0,"ty":3.43,"t":"λ₀"},{"p":"b1L","k":"l","tx":0.274,"ty":3.43,"t":"λ₊"},
{"p":"b1L","k":"a","tx":-0.273,"ty":3.05},{"p":"b1L","k":"a","tx":0,"ty":3.05},{"p":"b1L","k":"a","tx":0.274,"ty":3.05},
{"p":"b1R","k":"l","tx":-0.273,"ty":3.43,"t":"λ₋"},{"p":"b1R","k":"l","tx":0,"ty":3.43,"t":"λ₀"},{"p":"b1R","k":"l","tx":0.278,"ty":3.43,"t":"λ₊"},
{"p":"b1R","k":"a","tx":-0.273,"ty":3.05},{"p":"b1R","k":"a","tx":0,"ty":3.05},{"p":"b1R","k":"a","tx":0.278,"ty":3.05},
{"p":"b2L","k":"l","tx":-0.122,"ty":4.32,"t":"λ₋"},{"p":"b2L","k":"l","tx":0,"ty":4.32,"t":"λ₀"},{"p":"b2L","k":"l","tx":0.138,"ty":4.32,"t":"λ₊"},
{"p":"b2L","k":"a","tx":-0.124,"ty":3.83},{"p":"b2L","k":"a","tx":0,"ty":3.83},{"p":"b2L","k":"a","tx":0.122,"ty":3.83},
{"p":"b2R","k":"l","tx":-0.122,"ty":4.32,"t":"λ₋"},{"p":"b2R","k":"l","tx":0,"ty":4.32,"t":"λ₀"},{"p":"b2R","k":"l","tx":0.138,"ty":4.32,"t":"λ₊"},
{"p":"b2R","k":"a","tx":-0.124,"ty":3.83},{"p":"b2R","k":"a","tx":0,"ty":3.83},{"p":"b2R","k":"a","tx":0.122,"ty":3.83},
{"p":"b3L","k":"l","tx":0.01,"ty":8.96,"t":"λ₋λ₀λ₊"},
{"p":"b3L","k":"a","tx":-0.03,"ty":8.08},{"p":"b3L","k":"a","tx":0,"ty":8.08},{"p":"b3L","k":"a","tx":0.03,"ty":8.08},
{"p":"b3R","k":"l","tx":0.01,"ty":8.96,"t":"λ₋λ₀λ₊"},
{"p":"b3R","k":"a","tx":-0.03,"ty":8.08},{"p":"b3R","k":"a","tx":0,"ty":8.08},{"p":"b3R","k":"a","tx":0.03,"ty":8.08},
{"p":"b4L","k":"l","tx":0,"ty":12.47,"t":"λ₋ ≈ λ₀ ≈ λ₊"},{"p":"b4L","k":"a","tx":0,"ty":11.14},
{"p":"b4R","k":"l","tx":0,"ty":12.47,"t":"λ₋ ≈ λ₀ ≈ λ₊"},{"p":"b4R","k":"a","tx":0,"ty":11.14}
],
"ticks":[{"v":-0.5,"t":"−0.5"},{"v":0,"t":"0.0"},{"v":0.5,"t":"0.5"}]
},
"concat":[
{"width":65.7,"height":136.4,"title":{"text":"(a)","anchor":"start","dx":15,"offset":5.2,"fontSize":21},"data":{"values":[{}]},"mark":{"type":"point","opacity":0},"view":{"stroke":null}},
{"width":334,"height":136.4,"title":"CC ports","data":{"name":"c"},"transform":[{"filter":"datum.p=='a1L'"}],
 "encoding":{"x":{"field":"x","type":"quantitative","scale":{"domain":[-0.8,0.8]},"axis":{"values":[-0.5,0,0.5],"labels":false,"title":null}}},
 "layer":[
  {"mark":{"type":"line","color":"#1f77b4","strokeWidth":1.5},"encoding":{"y":{"field":"b","type":"quantitative","scale":{"domain":[-0.8,12.9]},"axis":{"values":[0,5,10],"format":"d","title":null}}}},
  {"mark":{"type":"line","color":"#2ca02c","strokeWidth":1.5,"strokeDash":[1.2,3]},"encoding":{"y":{"field":"b","type":"quantitative","axis":{"orient":"right","values":[0,5,10],"labels":false,"title":null}}}},
  {"mark":{"type":"line","color":"#ff1a1a","strokeWidth":1.5,"strokeDash":[5,2.5]},"encoding":{"y":{"field":"r","type":"quantitative","axis":null}}},
  {"data":{"name":"n"},"transform":[{"filter":"datum.p=='a1L'&&datum.k=='l'"}],"mark":{"type":"text","color":"#2020ff","fontSize":17,"baseline":"middle","align":"center"},"encoding":{"x":{"field":"tx","type":"quantitative","axis":null},"y":{"field":"ty","type":"quantitative","axis":null},"text":{"field":"t"}}},
  {"data":{"name":"n"},"transform":[{"filter":"datum.p=='a1L'&&datum.k=='a'"}],"mark":{"type":"text","text":"↓","color":"#2020ff","fontSize":11,"baseline":"middle","align":"center"},"encoding":{"x":{"field":"tx","type":"quantitative","axis":null},"y":{"field":"ty","type":"quantitative","axis":null}}}
 ],"resolve":{"axis":{"y":"independent"}}},
{"width":334,"height":136.4,"title":"AC ports (×80)","data":{"name":"c"},"transform":[{"filter":"datum.p=='a1R'"}],
 "encoding":{"x":{"field":"x","type":"quantitative","scale":{"domain":[-0.8,0.8]},"axis":{"values":[-0.5,0,0.5],"labels":false,"title":null}}},
 "layer":[
  {"mark":{"type":"line","color":"#1f77b4","strokeWidth":1.5},"encoding":{"y":{"field":"b","type":"quantitative","scale":{"domain":[-0.8,12.9]},"axis":{"values":[0,5,10],"labels":false,"title":null}}}},
  {"mark":{"type":"line","color":"#2ca02c","strokeWidth":1.5,"strokeDash":[1.2,3]},"encoding":{"y":{"field":"b","type":"quantitative","axis":{"orient":"right","values":[0,5,10],"labels":false,"title":null}}}},
  {"mark":{"type":"line","color":"#ff1a1a","strokeWidth":1.5,"strokeDash":[5,2.5]},"encoding":{"y":{"field":"r","type":"quantitative","axis":null}}},
  {"data":{"name":"n"},"transform":[{"filter":"datum.p=='a1R'&&datum.k=='l'"}],"mark":{"type":"text","color":"#2020ff","fontSize":17,"baseline":"middle","align":"center"},"encoding":{"x":{"field":"tx","type":"quantitative","axis":null},"y":{"field":"ty","type":"quantitative","axis":null},"text":{"field":"t"}}},
  {"data":{"name":"n"},"transform":[{"filter":"datum.p=='a1R'&&datum.k=='a'"}],"mark":{"type":"text","text":"↓","color":"#2020ff","fontSize":11,"baseline":"middle","align":"center"},"encoding":{"x":{"field":"tx","type":"quantitative","axis":null},"y":{"field":"ty","type":"quantitative","axis":null}}}
 ],"resolve":{"axis":{"y":"independent"}}},
{"width":62,"height":136.4,"title":{"text":"(b)","anchor":"end","dx":-5.7,"offset":7,"fontSize":21},"data":{"values":[{}]},"mark":{"type":"point","opacity":0},"view":{"stroke":null}},
{"width":334,"height":136.4,"title":"CC ports","data":{"name":"c"},"transform":[{"filter":"datum.p=='b1L'"}],
 "encoding":{"x":{"field":"x","type":"quantitative","scale":{"domain":[-0.8,0.8]},"axis":{"values":[-0.5,0,0.5],"labels":false,"title":null}}},
 "layer":[
  {"mark":{"type":"line","color":"#1f77b4","strokeWidth":1.5},"encoding":{"y":{"field":"b","type":"quantitative","scale":{"domain":[-0.47,3.97]},"axis":{"values":[0,1.5,3],"format":".1f","title":null}}}},
  {"mark":{"type":"line","color":"#2ca02c","strokeWidth":1.5,"strokeDash":[1.2,3]},"encoding":{"y":{"field":"b","type":"quantitative","axis":{"orient":"right","values":[0,1.5,3],"labels":false,"title":null}}}},
  {"mark":{"type":"line","color":"#ff1a1a","strokeWidth":1.5,"strokeDash":[5,2.5]},"encoding":{"y":{"field":"b","type":"quantitative","axis":null}}},
  {"data":{"name":"n"},"transform":[{"filter":"datum.p=='b1L'&&datum.k=='l'"}],"mark":{"type":"text","color":"#2020ff","fontSize":17,"baseline":"middle","align":"center"},"encoding":{"x":{"field":"tx","type":"quantitative","axis":null},"y":{"field":"ty","type":"quantitative","axis":null},"text":{"field":"t"}}},
  {"data":{"name":"n"},"transform":[{"filter":"datum.p=='b1L'&&datum.k=='a'"}],"mark":{"type":"text","text":"↓","color":"#2020ff","fontSize":11,"baseline":"middle","align":"center"},"encoding":{"x":{"field":"tx","type":"quantitative","axis":null},"y":{"field":"ty","type":"quantitative","axis":null}}}
 ],"resolve":{"axis":{"y":"independent"}}},
{"width":334,"height":136.4,"title":"AC ports","data":{"name":"c"},"transform":[{"filter":"datum.p=='b1R'"}],
 "encoding":{"x":{"field":"x","type":"quantitative","scale":{"domain":[-0.8,0.8]},"axis":{"values":[-0.5,0,0.5],"labels":false,"title":null}}},
 "layer":[
  {"mark":{"type":"line","color":"#1f77b4","strokeWidth":1.5},"encoding":{"y":{"field":"b","type":"quantitative","scale":{"domain":[-0.47,3.97]},"axis":{"values":[0,1.5,3],"labels":false,"title":null,"domain":true,"domainColor":"#555","domainWidth":1.2,"offset":0,"tickSize":3}}}},
  {"mark":{"type":"line","color":"#2ca02c","strokeWidth":1.5,"strokeDash":[1.2,3]},"encoding":{"y":{"field":"b","type":"quantitative","axis":{"orient":"right","values":[0,1.5,3],"labels":false,"title":"Nᵢₙ = 5","titleAngle":90,"titleX":20.5,"titleY":60.8,"titleAlign":"center","titleBaseline":"middle","titleFontSize":17}}}},
  {"mark":{"type":"line","color":"#ff1a1a","strokeWidth":1.5,"strokeDash":[5,2.5]},"encoding":{"y":{"field":"b","type":"quantitative","axis":null}}},
  {"data":{"name":"n"},"transform":[{"filter":"datum.p=='b1R'&&datum.k=='l'"}],"mark":{"type":"text","color":"#2020ff","fontSize":17,"baseline":"middle","align":"center"},"encoding":{"x":{"field":"tx","type":"quantitative","axis":null},"y":{"field":"ty","type":"quantitative","axis":null},"text":{"field":"t"}}},
  {"data":{"name":"n"},"transform":[{"filter":"datum.p=='b1R'&&datum.k=='a'"}],"mark":{"type":"text","text":"↓","color":"#2020ff","fontSize":11,"baseline":"middle","align":"center"},"encoding":{"x":{"field":"tx","type":"quantitative","axis":null},"y":{"field":"ty","type":"quantitative","axis":null}}}
 ],"resolve":{"axis":{"y":"independent"}}},
{"width":65.7,"height":136.4,"data":{"values":[{}]},"mark":{"type":"point","opacity":0},"view":{"stroke":null}},
{"width":334,"height":136.4,"data":{"name":"c"},"transform":[{"filter":"datum.p=='a2L'"}],
 "encoding":{"x":{"field":"x","type":"quantitative","scale":{"domain":[-0.8,0.8]},"axis":{"values":[-0.5,0,0.5],"labels":false,"title":null}}},
 "layer":[
  {"mark":{"type":"line","color":"#1f77b4","strokeWidth":1.5},"encoding":{"y":{"field":"b","type":"quantitative","scale":{"domain":[-0.47,8.95]},"axis":{"values":[0,4,8],"format":"d","title":"S(ω)⁽ⁱⁿᶜᵒʰ⁾","titleX":-45,"titleY":134,"titleAlign":"center","titleBaseline":"middle","titleFontSize":19}}}},
  {"mark":{"type":"line","color":"#2ca02c","strokeWidth":1.5,"strokeDash":[1.2,3]},"encoding":{"y":{"field":"b","type":"quantitative","axis":{"orient":"right","values":[0,4,8],"labels":false,"title":null}}}},
  {"mark":{"type":"line","color":"#ff1a1a","strokeWidth":1.5,"strokeDash":[5,2.5]},"encoding":{"y":{"field":"r","type":"quantitative","axis":null}}},
  {"data":{"name":"n"},"transform":[{"filter":"datum.p=='a2L'&&datum.k=='l'"}],"mark":{"type":"text","color":"#2020ff","fontSize":17,"baseline":"middle","align":"center"},"encoding":{"x":{"field":"tx","type":"quantitative","axis":null},"y":{"field":"ty","type":"quantitative","axis":null},"text":{"field":"t"}}},
  {"data":{"name":"n"},"transform":[{"filter":"datum.p=='a2L'&&datum.k=='a'"}],"mark":{"type":"text","text":"↓","color":"#2020ff","fontSize":11,"baseline":"middle","align":"center"},"encoding":{"x":{"field":"tx","type":"quantitative","axis":null},"y":{"field":"ty","type":"quantitative","axis":null}}}
 ],"resolve":{"axis":{"y":"independent"}}},
{"width":334,"height":136.4,"data":{"name":"c"},"transform":[{"filter":"datum.p=='a2R'"}],
 "encoding":{"x":{"field":"x","type":"quantitative","scale":{"domain":[-0.8,0.8]},"axis":{"values":[-0.5,0,0.5],"labels":false,"title":null}}},
 "layer":[
  {"mark":{"type":"line","color":"#1f77b4","strokeWidth":1.5},"encoding":{"y":{"field":"b","type":"quantitative","scale":{"domain":[-0.47,8.95]},"axis":{"values":[0,4,8],"labels":false,"title":null}}}},
  {"mark":{"type":"line","color":"#2ca02c","strokeWidth":1.5,"strokeDash":[1.2,3]},"encoding":{"y":{"field":"b","type":"quantitative","axis":{"orient":"right","values":[0,4,8],"labels":false,"title":null}}}},
  {"mark":{"type":"line","color":"#ff1a1a","strokeWidth":1.5,"strokeDash":[5,2.5]},"encoding":{"y":{"field":"r","type":"quantitative","axis":null}}},
  {"data":{"name":"n"},"transform":[{"filter":"datum.p=='a2R'&&datum.k=='l'"}],"mark":{"type":"text","color":"#2020ff","fontSize":17,"baseline":"middle","align":"center"},"encoding":{"x":{"field":"tx","type":"quantitative","axis":null},"y":{"field":"ty","type":"quantitative","axis":null},"text":{"field":"t"}}},
  {"data":{"name":"n"},"transform":[{"filter":"datum.p=='a2R'&&datum.k=='a'"}],"mark":{"type":"text","text":"↓","color":"#2020ff","fontSize":11,"baseline":"middle","align":"center"},"encoding":{"x":{"field":"tx","type":"quantitative","axis":null},"y":{"field":"ty","type":"quantitative","axis":null}}}
 ],"resolve":{"axis":{"y":"independent"}}},
{"width":62,"height":136.4,"data":{"values":[{}]},"mark":{"type":"point","opacity":0},"view":{"stroke":null}},
{"width":334,"height":136.4,"data":{"name":"c"},"transform":[{"filter":"datum.p=='b2L'"}],
 "encoding":{"x":{"field":"x","type":"quantitative","scale":{"domain":[-0.8,0.8]},"axis":{"values":[-0.5,0,0.5],"labels":false,"title":null}}},
 "layer":[
  {"mark":{"type":"line","color":"#1f77b4","strokeWidth":1.5},"encoding":{"y":{"field":"b","type":"quantitative","scale":{"domain":[-0.48,5.0]},"axis":{"values":[0,2,4],"format":"d","title":null}}}},
  {"mark":{"type":"line","color":"#2ca02c","strokeWidth":1.5,"strokeDash":[1.2,3]},"encoding":{"y":{"field":"b","type":"quantitative","axis":{"orient":"right","values":[0,2,4],"labels":false,"title":null}}}},
  {"mark":{"type":"line","color":"#ff1a1a","strokeWidth":1.5,"strokeDash":[5,2.5]},"encoding":{"y":{"field":"b","type":"quantitative","axis":null}}},
  {"data":{"name":"n"},"transform":[{"filter":"datum.p=='b2L'&&datum.k=='l'"}],"mark":{"type":"text","color":"#2020ff","fontSize":17,"baseline":"middle","align":"center"},"encoding":{"x":{"field":"tx","type":"quantitative","axis":null},"y":{"field":"ty","type":"quantitative","axis":null},"text":{"field":"t"}}},
  {"data":{"name":"n"},"transform":[{"filter":"datum.p=='b2L'&&datum.k=='a'"}],"mark":{"type":"text","text":"↓","color":"#2020ff","fontSize":11,"baseline":"middle","align":"center"},"encoding":{"x":{"field":"tx","type":"quantitative","axis":null},"y":{"field":"ty","type":"quantitative","axis":null}}}
 ],"resolve":{"axis":{"y":"independent"}}},
{"width":334,"height":136.4,"data":{"name":"c"},"transform":[{"filter":"datum.p=='b2R'"}],
 "encoding":{"x":{"field":"x","type":"quantitative","scale":{"domain":[-0.8,0.8]},"axis":{"values":[-0.5,0,0.5],"labels":false,"title":null}}},
 "layer":[
  {"mark":{"type":"line","color":"#1f77b4","strokeWidth":1.5},"encoding":{"y":{"field":"b","type":"quantitative","scale":{"domain":[-0.48,5.0]},"axis":{"values":[0,2,4],"labels":false,"title":null,"domain":true,"domainColor":"#555","domainWidth":1.2,"offset":0,"tickSize":3}}}},
  {"mark":{"type":"line","color":"#2ca02c","strokeWidth":1.5,"strokeDash":[1.2,3]},"encoding":{"y":{"field":"b","type":"quantitative","axis":{"orient":"right","values":[0,2,4],"labels":false,"title":"Nᵢₙ = 1","titleAngle":90,"titleX":20.5,"titleY":47.9,"titleAlign":"center","titleBaseline":"middle","titleFontSize":17}}}},
  {"mark":{"type":"line","color":"#ff1a1a","strokeWidth":1.5,"strokeDash":[5,2.5]},"encoding":{"y":{"field":"b","type":"quantitative","axis":null}}},
  {"data":{"name":"n"},"transform":[{"filter":"datum.p=='b2R'&&datum.k=='l'"}],"mark":{"type":"text","color":"#2020ff","fontSize":17,"baseline":"middle","align":"center"},"encoding":{"x":{"field":"tx","type":"quantitative","axis":null},"y":{"field":"ty","type":"quantitative","axis":null},"text":{"field":"t"}}},
  {"data":{"name":"n"},"transform":[{"filter":"datum.p=='b2R'&&datum.k=='a'"}],"mark":{"type":"text","text":"↓","color":"#2020ff","fontSize":11,"baseline":"middle","align":"center"},"encoding":{"x":{"field":"tx","type":"quantitative","axis":null},"y":{"field":"ty","type":"quantitative","axis":null}}}
 ],"resolve":{"axis":{"y":"independent"}}},
{"width":65.7,"height":136.4,"data":{"values":[{}]},"mark":{"type":"point","opacity":0},"view":{"stroke":null}},
{"width":334,"height":136.4,"data":{"name":"c"},"transform":[{"filter":"datum.p=='a3L'"}],
 "encoding":{"x":{"field":"x","type":"quantitative","scale":{"domain":[-0.8,0.8]},"axis":{"values":[-0.5,0,0.5],"labels":false,"title":null}}},
 "layer":[
  {"mark":{"type":"line","color":"#1f77b4","strokeWidth":1.5},"encoding":{"y":{"field":"b","type":"quantitative","scale":{"domain":[-0.5,15.15]},"axis":{"values":[0,5,10],"format":"d","title":null}}}},
  {"mark":{"type":"line","color":"#2ca02c","strokeWidth":1.5,"strokeDash":[1.2,3]},"encoding":{"y":{"field":"b","type":"quantitative","axis":{"orient":"right","values":[0,5,10],"labels":false,"title":null}}}},
  {"mark":{"type":"line","color":"#ff1a1a","strokeWidth":1.5,"strokeDash":[5,2.5]},"encoding":{"y":{"field":"r","type":"quantitative","axis":null}}},
  {"data":{"name":"n"},"transform":[{"filter":"datum.p=='a3L'&&datum.k=='l'"}],"mark":{"type":"text","color":"#2020ff","fontSize":17,"baseline":"middle","align":"center"},"encoding":{"x":{"field":"tx","type":"quantitative","axis":null},"y":{"field":"ty","type":"quantitative","axis":null},"text":{"field":"t"}}},
  {"data":{"name":"n"},"transform":[{"filter":"datum.p=='a3L'&&datum.k=='a'"}],"mark":{"type":"text","text":"↓","color":"#2020ff","fontSize":11,"baseline":"middle","align":"center"},"encoding":{"x":{"field":"tx","type":"quantitative","axis":null},"y":{"field":"ty","type":"quantitative","axis":null}}}
 ],"resolve":{"axis":{"y":"independent"}}},
{"width":334,"height":136.4,"data":{"name":"c"},"transform":[{"filter":"datum.p=='a3R'"}],
 "encoding":{"x":{"field":"x","type":"quantitative","scale":{"domain":[-0.8,0.8]},"axis":{"values":[-0.5,0,0.5],"labels":false,"title":null}}},
 "layer":[
  {"mark":{"type":"line","color":"#1f77b4","strokeWidth":1.5},"encoding":{"y":{"field":"b","type":"quantitative","scale":{"domain":[-0.5,15.15]},"axis":{"values":[0,5,10],"labels":false,"title":null}}}},
  {"mark":{"type":"line","color":"#2ca02c","strokeWidth":1.5,"strokeDash":[1.2,3]},"encoding":{"y":{"field":"b","type":"quantitative","axis":{"orient":"right","values":[0,5,10],"labels":false,"title":null}}}},
  {"mark":{"type":"line","color":"#ff1a1a","strokeWidth":1.5,"strokeDash":[5,2.5]},"encoding":{"y":{"field":"r","type":"quantitative","axis":null}}},
  {"data":{"name":"n"},"transform":[{"filter":"datum.p=='a3R'&&datum.k=='l'"}],"mark":{"type":"text","color":"#2020ff","fontSize":17,"baseline":"middle","align":"center"},"encoding":{"x":{"field":"tx","type":"quantitative","axis":null},"y":{"field":"ty","type":"quantitative","axis":null},"text":{"field":"t"}}},
  {"data":{"name":"n"},"transform":[{"filter":"datum.p=='a3R'&&datum.k=='a'"}],"mark":{"type":"text","text":"↓","color":"#2020ff","fontSize":11,"baseline":"middle","align":"center"},"encoding":{"x":{"field":"tx","type":"quantitative","axis":null},"y":{"field":"ty","type":"quantitative","axis":null}}}
 ],"resolve":{"axis":{"y":"independent"}}},
{"width":62,"height":136.4,"data":{"values":[{}]},"mark":{"type":"point","opacity":0},"view":{"stroke":null}},
{"width":334,"height":136.4,"data":{"name":"c"},"transform":[{"filter":"datum.p=='b3L'"}],
 "encoding":{"x":{"field":"x","type":"quantitative","scale":{"domain":[-0.8,0.8]},"axis":{"values":[-0.5,0,0.5],"labels":false,"title":null}}},
 "layer":[
  {"mark":{"type":"line","color":"#1f77b4","strokeWidth":1.5},"encoding":{"y":{"field":"b","type":"quantitative","scale":{"domain":[-0.55,10.36]},"axis":{"values":[0,5,10],"format":"d","title":null}}}},
  {"mark":{"type":"line","color":"#2ca02c","strokeWidth":1.5,"strokeDash":[1.2,3]},"encoding":{"y":{"field":"b","type":"quantitative","axis":{"orient":"right","values":[0,5,10],"labels":false,"title":null}}}},
  {"mark":{"type":"line","color":"#ff1a1a","strokeWidth":1.5,"strokeDash":[5,2.5]},"encoding":{"y":{"field":"b","type":"quantitative","axis":null}}},
  {"data":{"name":"n"},"transform":[{"filter":"datum.p=='b3L'&&datum.k=='l'"}],"mark":{"type":"text","color":"#2020ff","fontSize":17,"baseline":"middle","align":"center"},"encoding":{"x":{"field":"tx","type":"quantitative","axis":null},"y":{"field":"ty","type":"quantitative","axis":null},"text":{"field":"t"}}},
  {"data":{"name":"n"},"transform":[{"filter":"datum.p=='b3L'&&datum.k=='a'"}],"mark":{"type":"text","text":"↓","color":"#2020ff","fontSize":11,"baseline":"middle","align":"center"},"encoding":{"x":{"field":"tx","type":"quantitative","axis":null},"y":{"field":"ty","type":"quantitative","axis":null}}}
 ],"resolve":{"axis":{"y":"independent"}}},
{"width":334,"height":136.4,"data":{"name":"c"},"transform":[{"filter":"datum.p=='b3R'"}],
 "encoding":{"x":{"field":"x","type":"quantitative","scale":{"domain":[-0.8,0.8]},"axis":{"values":[-0.5,0,0.5],"labels":false,"title":null}}},
 "layer":[
  {"mark":{"type":"line","color":"#1f77b4","strokeWidth":1.5},"encoding":{"y":{"field":"b","type":"quantitative","scale":{"domain":[-0.55,10.36]},"axis":{"values":[0,5,10],"labels":false,"title":null,"domain":true,"domainColor":"#555","domainWidth":1.2,"offset":0,"tickSize":3}}}},
  {"mark":{"type":"line","color":"#2ca02c","strokeWidth":1.5,"strokeDash":[1.2,3]},"encoding":{"y":{"field":"b","type":"quantitative","axis":{"orient":"right","values":[0,5,10],"labels":false,"title":"Nᵢₙ = 0.1","titleAngle":90,"titleX":20.5,"titleY":34.5,"titleAlign":"center","titleBaseline":"middle","titleFontSize":17}}}},
  {"mark":{"type":"line","color":"#ff1a1a","strokeWidth":1.5,"strokeDash":[5,2.5]},"encoding":{"y":{"field":"b","type":"quantitative","axis":null}}},
  {"data":{"name":"n"},"transform":[{"filter":"datum.p=='b3R'&&datum.k=='l'"}],"mark":{"type":"text","color":"#2020ff","fontSize":17,"baseline":"middle","align":"center"},"encoding":{"x":{"field":"tx","type":"quantitative","axis":null},"y":{"field":"ty","type":"quantitative","axis":null},"text":{"field":"t"}}},
  {"data":{"name":"n"},"transform":[{"filter":"datum.p=='b3R'&&datum.k=='a'"}],"mark":{"type":"text","text":"↓","color":"#2020ff","fontSize":11,"baseline":"middle","align":"center"},"encoding":{"x":{"field":"tx","type":"quantitative","axis":null},"y":{"field":"ty","type":"quantitative","axis":null}}}
 ],"resolve":{"axis":{"y":"independent"}}},
{"width":65.7,"height":136.4,"data":{"values":[{}]},"mark":{"type":"point","opacity":0},"view":{"stroke":null}},
{"width":334,"height":136.4,"data":{"name":"c"},"transform":[{"filter":"datum.p=='a4L'"}],
 "encoding":{"x":{"field":"x","type":"quantitative","scale":{"domain":[-0.8,0.8]},"axis":{"values":[-0.5,0,0.5],"labels":false,"title":null}}},
 "layer":[
  {"mark":{"type":"line","color":"#1f77b4","strokeWidth":1.5},"encoding":{"y":{"field":"b","type":"quantitative","scale":{"domain":[-0.3,25]},"axis":{"values":[0,10,20],"format":"d","title":null}}}},
  {"mark":{"type":"line","color":"#2ca02c","strokeWidth":1.5,"strokeDash":[1.2,3]},"encoding":{"y":{"field":"b","type":"quantitative","axis":{"orient":"right","values":[0,10,20],"labels":false,"title":null}}}},
  {"mark":{"type":"line","color":"#ff1a1a","strokeWidth":1.5,"strokeDash":[5,2.5]},"encoding":{"y":{"field":"r","type":"quantitative","axis":null}}},
  {"data":{"name":"n"},"transform":[{"filter":"datum.p=='a4L'&&datum.k=='l'"}],"mark":{"type":"text","color":"#2020ff","fontSize":17,"baseline":"middle","align":"center"},"encoding":{"x":{"field":"tx","type":"quantitative","axis":null},"y":{"field":"ty","type":"quantitative","axis":null},"text":{"field":"t"}}},
  {"data":{"name":"n"},"transform":[{"filter":"datum.p=='a4L'&&datum.k=='a'"}],"mark":{"type":"text","text":"↓","color":"#2020ff","fontSize":11,"baseline":"middle","align":"center"},"encoding":{"x":{"field":"tx","type":"quantitative","axis":null},"y":{"field":"ty","type":"quantitative","axis":null}}}
 ],"resolve":{"axis":{"y":"independent"}}},
{"width":334,"height":136.4,"data":{"name":"c"},"transform":[{"filter":"datum.p=='a4R'"}],
 "encoding":{"x":{"field":"x","type":"quantitative","scale":{"domain":[-0.8,0.8]},"axis":{"values":[-0.5,0,0.5],"labels":false,"title":null}}},
 "layer":[
  {"mark":{"type":"line","color":"#1f77b4","strokeWidth":1.5},"encoding":{"y":{"field":"b","type":"quantitative","scale":{"domain":[-0.3,25]},"axis":{"values":[0,10,20],"labels":false,"title":null}}}},
  {"mark":{"type":"line","color":"#2ca02c","strokeWidth":1.5,"strokeDash":[1.2,3]},"encoding":{"y":{"field":"b","type":"quantitative","axis":{"orient":"right","values":[0,10,20],"labels":false,"title":null}}}},
  {"mark":{"type":"line","color":"#ff1a1a","strokeWidth":1.5,"strokeDash":[5,2.5]},"encoding":{"y":{"field":"r","type":"quantitative","axis":null}}},
  {"data":{"name":"n"},"transform":[{"filter":"datum.p=='a4R'&&datum.k=='l'"}],"mark":{"type":"text","color":"#2020ff","fontSize":17,"baseline":"middle","align":"center"},"encoding":{"x":{"field":"tx","type":"quantitative","axis":null},"y":{"field":"ty","type":"quantitative","axis":null},"text":{"field":"t"}}},
  {"data":{"name":"n"},"transform":[{"filter":"datum.p=='a4R'&&datum.k=='a'"}],"mark":{"type":"text","text":"↓","color":"#2020ff","fontSize":11,"baseline":"middle","align":"center"},"encoding":{"x":{"field":"tx","type":"quantitative","axis":null},"y":{"field":"ty","type":"quantitative","axis":null}}}
 ],"resolve":{"axis":{"y":"independent"}}},
{"width":62,"height":136.4,"data":{"values":[{}]},"mark":{"type":"point","opacity":0},"view":{"stroke":null}},
{"width":334,"height":136.4,"data":{"name":"c"},"transform":[{"filter":"datum.p=='b4L'"}],
 "encoding":{"x":{"field":"x","type":"quantitative","scale":{"domain":[-0.8,0.8]},"axis":{"values":[-0.5,0,0.5],"labels":false,"title":null}}},
 "layer":[
  {"mark":{"type":"line","color":"#1f77b4","strokeWidth":1.5},"encoding":{"y":{"field":"b","type":"quantitative","scale":{"domain":[-0.32,14.15]},"axis":{"values":[0,5,10],"format":"d","title":null}}}},
  {"mark":{"type":"line","color":"#2ca02c","strokeWidth":1.5,"strokeDash":[1.2,3]},"encoding":{"y":{"field":"b","type":"quantitative","axis":{"orient":"right","values":[0,5,10],"labels":false,"title":null}}}},
  {"mark":{"type":"line","color":"#ff1a1a","strokeWidth":1.5,"strokeDash":[5,2.5]},"encoding":{"y":{"field":"b","type":"quantitative","axis":null}}},
  {"data":{"name":"n"},"transform":[{"filter":"datum.p=='b4L'&&datum.k=='l'"}],"mark":{"type":"text","color":"#2020ff","fontSize":17,"baseline":"middle","align":"center"},"encoding":{"x":{"field":"tx","type":"quantitative","axis":null},"y":{"field":"ty","type":"quantitative","axis":null},"text":{"field":"t"}}},
  {"data":{"name":"n"},"transform":[{"filter":"datum.p=='b4L'&&datum.k=='a'"}],"mark":{"type":"text","text":"↓","color":"#2020ff","fontSize":11,"baseline":"middle","align":"center"},"encoding":{"x":{"field":"tx","type":"quantitative","axis":null},"y":{"field":"ty","type":"quantitative","axis":null}}}
 ],"resolve":{"axis":{"y":"independent"}}},
{"width":334,"height":136.4,"data":{"name":"c"},"transform":[{"filter":"datum.p=='b4R'"}],
 "encoding":{"x":{"field":"x","type":"quantitative","scale":{"domain":[-0.8,0.8]},"axis":{"values":[-0.5,0,0.5],"labels":false,"title":null}}},
 "layer":[
  {"mark":{"type":"line","color":"#1f77b4","strokeWidth":1.5},"encoding":{"y":{"field":"b","type":"quantitative","scale":{"domain":[-0.32,14.15]},"axis":{"values":[0,5,10],"labels":false,"title":null,"domain":true,"domainColor":"#555","domainWidth":1.2,"offset":0,"tickSize":3}}}},
  {"mark":{"type":"line","color":"#2ca02c","strokeWidth":1.5,"strokeDash":[1.2,3]},"encoding":{"y":{"field":"b","type":"quantitative","axis":{"orient":"right","values":[0,5,10],"labels":false,"title":"Nᵢₙ = 10⁻⁴","titleAngle":90,"titleX":20.5,"titleY":18.1,"titleAlign":"center","titleBaseline":"middle","titleFontSize":17}}}},
  {"mark":{"type":"line","color":"#ff1a1a","strokeWidth":1.5,"strokeDash":[5,2.5]},"encoding":{"y":{"field":"b","type":"quantitative","axis":null}}},
  {"data":{"name":"n"},"transform":[{"filter":"datum.p=='b4R'&&datum.k=='l'"}],"mark":{"type":"text","color":"#2020ff","fontSize":17,"baseline":"middle","align":"center"},"encoding":{"x":{"field":"tx","type":"quantitative","axis":null},"y":{"field":"ty","type":"quantitative","axis":null},"text":{"field":"t"}}},
  {"data":{"name":"n"},"transform":[{"filter":"datum.p=='b4R'&&datum.k=='a'"}],"mark":{"type":"text","text":"↓","color":"#2020ff","fontSize":11,"baseline":"middle","align":"center"},"encoding":{"x":{"field":"tx","type":"quantitative","axis":null},"y":{"field":"ty","type":"quantitative","axis":null}}}
 ],"resolve":{"axis":{"y":"independent"}}},
{"width":65.7,"height":64,"data":{"values":[{}]},"mark":{"type":"point","opacity":0},"view":{"stroke":null}},
{"width":334,"height":64,"title":{"text":"Detuning laser-collected photons : (ω−ωₗₐₛ)/κ","orient":"bottom","anchor":"middle","dx":170,"offset":-20,"baseline":"middle","fontSize":21},"data":{"name":"ticks"},"mark":{"type":"text","fontSize":16,"color":"#222","baseline":"middle","align":"center"},"encoding":{"x":{"field":"v","type":"quantitative","scale":{"domain":[-0.8,0.8]},"axis":null},"y":{"datum":0.77,"type":"quantitative","scale":{"domain":[0,1]},"axis":null},"text":{"field":"t"}},"view":{"stroke":null}},
{"width":334,"height":64,"data":{"name":"ticks"},"mark":{"type":"text","fontSize":16,"color":"#222","baseline":"middle","align":"center"},"encoding":{"x":{"field":"v","type":"quantitative","scale":{"domain":[-0.8,0.8]},"axis":null},"y":{"datum":0.77,"type":"quantitative","scale":{"domain":[0,1]},"axis":null},"text":{"field":"t"}},"view":{"stroke":null}},
{"width":62,"height":64,"data":{"values":[{}]},"mark":{"type":"point","opacity":0},"view":{"stroke":null}},
{"width":334,"height":64,"title":{"text":"Detuning laser-collected photons : (ω−ωₗₐₛ)/κ","orient":"bottom","anchor":"middle","dx":156,"offset":-20,"baseline":"middle","fontSize":21},"data":{"name":"ticks"},"mark":{"type":"text","fontSize":16,"color":"#222","baseline":"middle","align":"center"},"encoding":{"x":{"field":"v","type":"quantitative","scale":{"domain":[-0.8,0.8]},"axis":null},"y":{"datum":0.77,"type":"quantitative","scale":{"domain":[0,1]},"axis":null},"text":{"field":"t"}},"view":{"stroke":null}},
{"width":334,"height":64,"data":{"name":"ticks"},"mark":{"type":"text","fontSize":16,"color":"#222","baseline":"middle","align":"center"},"encoding":{"x":{"field":"v","type":"quantitative","scale":{"domain":[-0.8,0.8]},"axis":null},"y":{"datum":0.77,"type":"quantitative","scale":{"domain":[0,1]},"axis":null},"text":{"field":"t"}},"view":{"stroke":null}}
],
"columns":6,
"spacing":0,
"align":"each",
"bounds":"flush",
"config":{
 "font":"DejaVu Sans",
 "view":{"stroke":"#c8c8c8","strokeWidth":1},
 "axis":{"grid":false,"domain":false,"tickColor":"#000","tickWidth":2.5,"labelFontSize":16,"labelColor":"#222","labelPadding":3,"titleFontWeight":"normal","titleColor":"#222","titleFont":"DejaVu Sans","labelFont":"DejaVu Sans"},
 "axisLeft":{"offset":-2.5,"tickSize":5},
 "axisRight":{"offset":-2.5,"tickSize":5},
 "axisBottom":{"offset":-2.5,"tickSize":5},
 "title":{"fontSize":21,"fontWeight":"normal","color":"#222","offset":3,"font":"DejaVu Sans"},
 "text":{"font":"DejaVu Sans"}
}
}
